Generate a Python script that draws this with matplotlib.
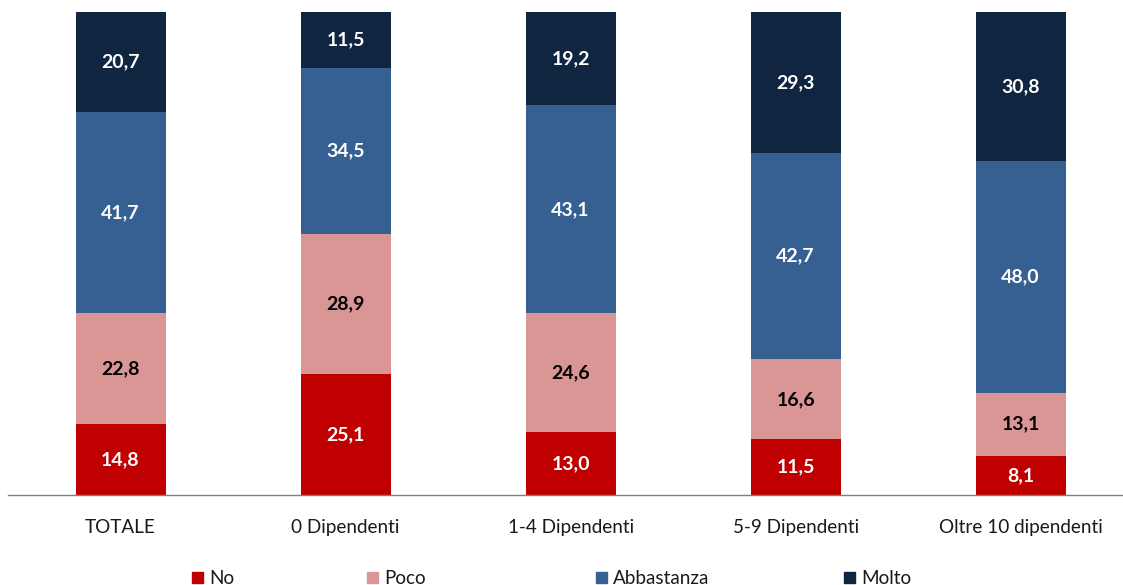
import numpy as np
import matplotlib.pyplot as plt
from matplotlib.patches import Rectangle

categorie = ["TOTALE", "0 Dipendenti", "1-4 Dipendenti", "5-9 Dipendenti", "Oltre 10 dipendenti"]
no = [14.8, 25.1, 13.0, 11.5, 8.1]
poco = [22.8, 28.9, 24.6, 16.6, 13.1]
abbastanza = [41.7, 34.5, 43.1, 42.7, 48.0]
molto = [20.7, 11.5, 19.2, 29.3, 30.8]

serie = ["No", "Poco", "Abbastanza", "Molto"]
colori = ["#C00000", "#DA9694", "#366092", "#10253F"]
col_testo = ["white", "black", "white", "white"]

plt.rcParams['font.family'] = ['Lato', 'DejaVu Sans']

fig = plt.figure(figsize=(11.23, 5.85), dpi=100)
ax = fig.add_axes([8 / 1123, 90 / 585, 1 - 8 / 1123, 483 / 585])

x = np.arange(len(categorie))
base = np.zeros(len(categorie))
for vals, c, tc in zip([no, poco, abbastanza, molto], colori, col_testo):
    vals = np.array(vals)
    ax.bar(x, vals, width=0.4, bottom=base, color=c, clip_on=False)
    for xi, b, v in zip(x, base, vals):
        ax.text(xi, b + v / 2, f"{v:.1f}".replace(".", ","), ha="center", va="center",
                color=tc, fontsize=14, fontweight="bold")
    base += vals

ax.set_xlim(-0.5, 4.455)
ax.set_ylim(0, 100)
ax.set_yticks([])
ax.set_xticks(x)
ax.set_xticklabels(categorie, fontsize=13.6, color="#1A1A1A")
ax.tick_params(axis="x", length=0, pad=17)
for s in ["top", "right", "left"]:
    ax.spines[s].set_visible(False)
ax.spines["bottom"].set_color("#7F7F7F")
ax.spines["bottom"].set_linewidth(1)

# legenda
leg_x = [192, 367, 596, 844]
for lx, lab, c in zip(leg_x, serie, colori):
    fig.add_artist(Rectangle((lx / 1123, (585 - 583) / 585), 11 / 1123, 11 / 585,
                             transform=fig.transFigure, color=c))
    fig.text((lx + 17) / 1123, (585 - 578) / 585, lab, fontsize=13.6, va="center",
             color="#1A1A1A")

fig.savefig("out.png", dpi=100)
